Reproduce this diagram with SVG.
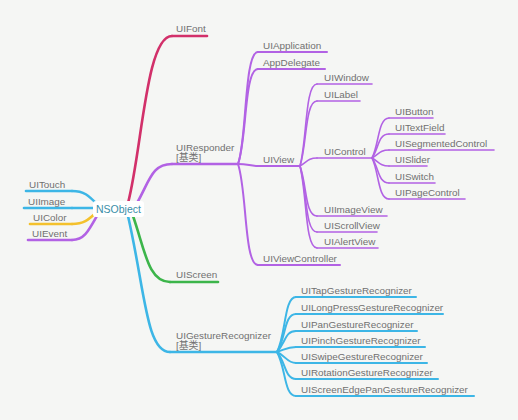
<svg xmlns="http://www.w3.org/2000/svg" width="518" height="420" viewBox="0 0 518 420">
<style>
text{font-family:"Liberation Sans","Noto Sans CJK SC",sans-serif;font-size:9.9px;fill:#707070}
.c{fill:none;stroke-linecap:round}
.u{fill:none;stroke-linecap:round}
.r{stroke:#d2306a}
.p{stroke:#b262e4}
.b{stroke:#3db6e6}
.y{stroke:#f4c12c}
.g{stroke:#3cb54a}
.w1{stroke-width:2.6}
.w2{stroke-width:2}
.w3{stroke-width:1.6}
</style>
<rect width="518" height="420" fill="#f5f6f4"/>
<g id="connectors">
<path class="c r w1" d="M128,203 C142,150 146,36 172,36"/>
<path class="c p w1" d="M137,203 C150,180 152,164 172,164"/>
<path class="c g w1" d="M133,216 C145,250 148,282 170,282"/>
<path class="c b w1" d="M128,216 C145,290 146,352 170,352"/>
<path class="c b w1" d="M98,205 C88,195 84,191 72,191"/>
<path class="c b w1" d="M98,208 L72,208"/>
<path class="c y w1" d="M98,211 C88,220 84,224 72,224"/>
<path class="c p w1" d="M98,214 C88,232 84,240 72,240"/>
<path class="c p w2" d="M238,164 C247,140 244,52 258,52"/>
<path class="c p w2" d="M238,164 C247,140 244,69 258,69"/>
<path class="c p w2" d="M238,164 C248,164 250,166 258,166"/>
<path class="c p w2" d="M238,164 C247,190 244,265 258,265"/>
<path class="c p w3" d="M300,166 C307,140 305,84 317,84"/>
<path class="c p w3" d="M300,166 C307,145 305,101 317,101"/>
<path class="c p w3" d="M300,166 C307,162 308,158 317,158"/>
<path class="c p w3" d="M300,166 C307,185 305,216 317,216"/>
<path class="c p w3" d="M300,166 C307,190 305,232 317,232"/>
<path class="c p w3" d="M300,166 C307,195 305,248 317,248"/>
<path class="c p w3" d="M372,158 C379,145 378,118 389,118"/>
<path class="c p w3" d="M372,158 C379,148 378,134 389,134"/>
<path class="c p w3" d="M372,158 C379,154 380,150 389,150"/>
<path class="c p w3" d="M372,158 C379,162 380,166 389,166"/>
<path class="c p w3" d="M372,158 C379,168 378,183 389,183"/>
<path class="c p w3" d="M372,158 C379,172 378,199 389,199"/>
<path class="c b w2" d="M277,352 C286,335 284,297 296,297"/>
<path class="c b w2" d="M277,352 C286,338 284,314 296,314"/>
<path class="c b w2" d="M277,352 C286,342 285,331 296,331"/>
<path class="c b w2" d="M277,352 C286,349 287,347 296,347"/>
<path class="c b w2" d="M277,352 C286,356 287,363 296,363"/>
<path class="c b w2" d="M277,352 C286,363 285,379 296,379"/>
<path class="c b w2" d="M277,352 C286,368 284,396 296,396"/>
</g>
<g id="NSObject">
<rect x="93" y="201" width="51" height="16" rx="3" fill="#ffffff"/>
<text x="118.5" y="212.5" text-anchor="middle" style="fill:#3a8ea8;font-size:10.5px">NSObject</text>
</g>
<g id="UIFont"><line class="u r w1" x1="172" y1="36" x2="207" y2="36"/><text x="176" y="32">UIFont</text></g>
<g id="UIResponder"><line class="u p w1" x1="172" y1="164" x2="238" y2="164"/><text x="176" y="151">UIResponder</text><text x="176" y="161">[基类]</text></g>
<g id="UIScreen"><line class="u g w1" x1="170" y1="282" x2="218" y2="282"/><text x="176" y="278">UIScreen</text></g>
<g id="UIGestureRecognizer"><line class="u b w1" x1="170" y1="352" x2="277" y2="352"/><text x="176" y="339">UIGestureRecognizer</text><text x="176" y="349">[基类]</text></g>
<g id="UITouch"><line class="u b w1" x1="26" y1="191" x2="72" y2="191"/><text x="29" y="188">UITouch</text></g>
<g id="UIImage"><line class="u b w1" x1="24" y1="208" x2="72" y2="208"/><text x="28" y="205">UIImage</text></g>
<g id="UIColor"><line class="u y w1" x1="30" y1="224" x2="72" y2="224"/><text x="33" y="221">UIColor</text></g>
<g id="UIEvent"><line class="u p w1" x1="28" y1="240" x2="72" y2="240"/><text x="32" y="237">UIEvent</text></g>
<g id="UIApplication"><line class="u p w2" x1="258" y1="52" x2="327" y2="52"/><text x="263" y="49">UIApplication</text></g>
<g id="AppDelegate"><line class="u p w2" x1="258" y1="69" x2="325" y2="69"/><text x="263" y="66">AppDelegate</text></g>
<g id="UIView"><line class="u p w2" x1="258" y1="166" x2="300" y2="166"/><text x="263" y="163">UIView</text></g>
<g id="UIViewController"><line class="u p w2" x1="258" y1="265" x2="340" y2="265"/><text x="263" y="262">UIViewController</text></g>
<g id="UIWindow"><line class="u p w3" x1="317" y1="84" x2="372" y2="84"/><text x="324" y="81">UIWindow</text></g>
<g id="UILabel"><line class="u p w3" x1="317" y1="101" x2="360" y2="101"/><text x="324" y="98">UILabel</text></g>
<g id="UIControl"><line class="u p w3" x1="317" y1="158" x2="372" y2="158"/><text x="324" y="155">UIControl</text></g>
<g id="UIImageView"><line class="u p w3" x1="317" y1="216" x2="387" y2="216"/><text x="324" y="213">UIImageView</text></g>
<g id="UIScrollView"><line class="u p w3" x1="317" y1="232" x2="377" y2="232"/><text x="324" y="229">UIScrollView</text></g>
<g id="UIAlertView"><line class="u p w3" x1="317" y1="248" x2="378" y2="248"/><text x="324" y="245">UIAlertView</text></g>
<g id="UIButton"><line class="u p w3" x1="389" y1="118" x2="433" y2="118"/><text x="395" y="115">UIButton</text></g>
<g id="UITextField"><line class="u p w3" x1="389" y1="134" x2="445" y2="134"/><text x="395" y="131">UITextField</text></g>
<g id="UISegmentedControl"><line class="u p w3" x1="389" y1="150" x2="494" y2="150"/><text x="395" y="147">UISegmentedControl</text></g>
<g id="UISlider"><line class="u p w3" x1="389" y1="166" x2="427" y2="166"/><text x="395" y="163">UISlider</text></g>
<g id="UISwitch"><line class="u p w3" x1="389" y1="183" x2="435" y2="183"/><text x="395" y="180">UISwitch</text></g>
<g id="UIPageControl"><line class="u p w3" x1="389" y1="199" x2="465" y2="199"/><text x="395" y="196">UIPageControl</text></g>
<g id="UITapGestureRecognizer"><line class="u b w2" x1="296" y1="297" x2="416" y2="297"/><text x="301" y="294">UITapGestureRecognizer</text></g>
<g id="UILongPressGestureRecognizer"><line class="u b w2" x1="296" y1="314" x2="443" y2="314"/><text x="301" y="311">UILongPressGestureRecognizer</text></g>
<g id="UIPanGestureRecognizer"><line class="u b w2" x1="296" y1="331" x2="417" y2="331"/><text x="301" y="328">UIPanGestureRecognizer</text></g>
<g id="UIPinchGestureRecognizer"><line class="u b w2" x1="296" y1="347" x2="425" y2="347"/><text x="301" y="344">UIPinchGestureRecognizer</text></g>
<g id="UISwipeGestureRecognizer"><line class="u b w2" x1="296" y1="363" x2="427" y2="363"/><text x="301" y="360">UISwipeGestureRecognizer</text></g>
<g id="UIRotationGestureRecognizer"><line class="u b w2" x1="296" y1="379" x2="438" y2="379"/><text x="301" y="376">UIRotationGestureRecognizer</text></g>
<g id="UIScreenEdgePanGestureRecognizer"><line class="u b w2" x1="296" y1="396" x2="474" y2="396"/><text x="301" y="393">UIScreenEdgePanGestureRecognizer</text></g>
</svg>
